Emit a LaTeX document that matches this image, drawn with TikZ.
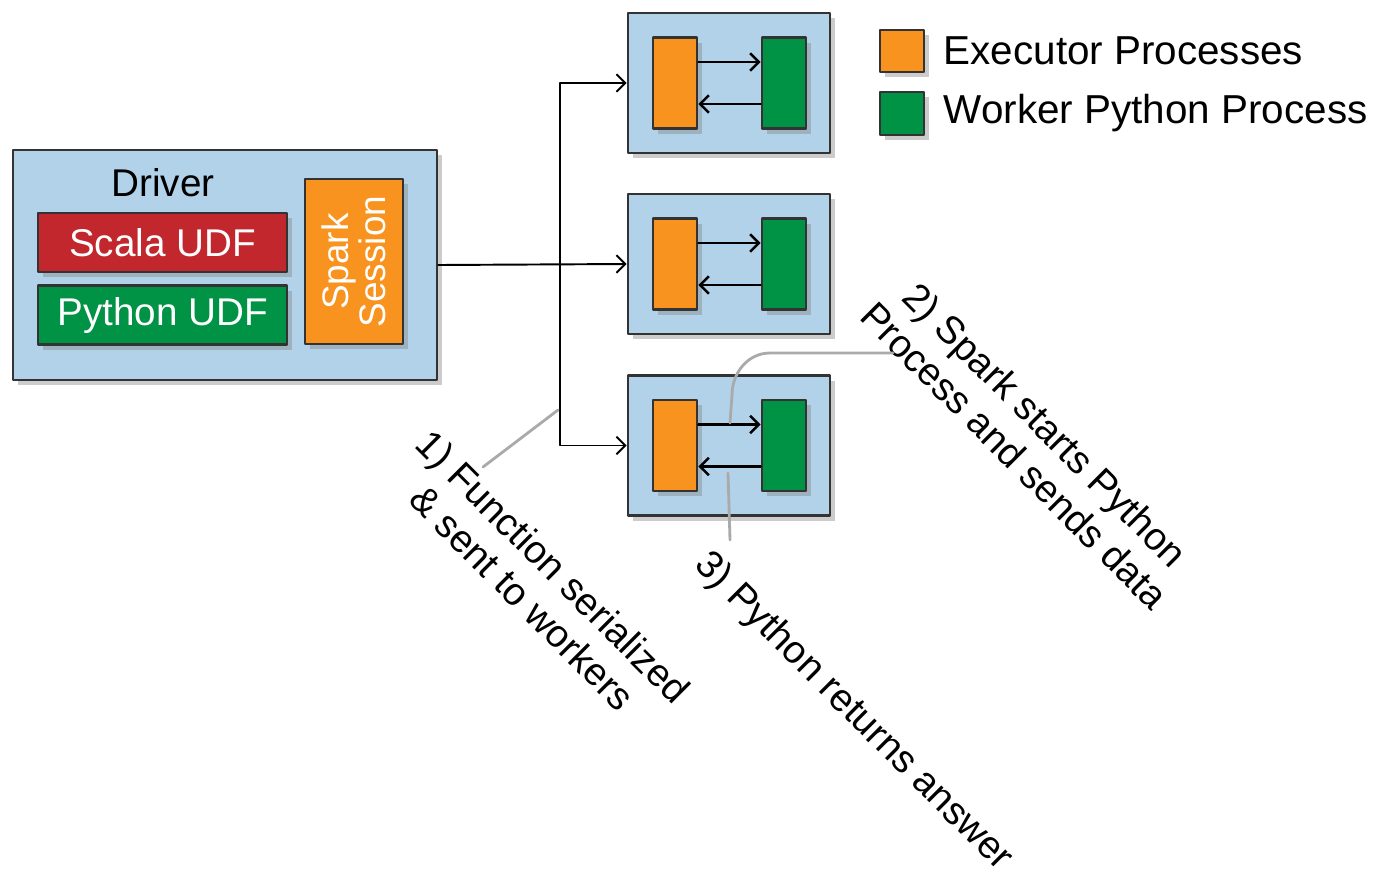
\documentclass[tikz,border=0pt]{standalone}
\usepackage{fontspec}
\setmainfont{Liberation Sans}
\usetikzlibrary{arrows.meta,shadows,positioning}
\definecolor{boxblue}{RGB}{178,210,234}
\definecolor{exorange}{RGB}{247,147,30}
\definecolor{pygreen}{RGB}{0,146,69}
\definecolor{scalared}{RGB}{193,39,45}
\definecolor{edge}{RGB}{51,51,51}
\definecolor{leader}{RGB}{170,170,170}
\tikzset{
  panel/.style={draw=edge, line width=1.6pt, fill=boxblue, inner sep=0pt,
    drop shadow={opacity=0.4, shadow xshift=3pt, shadow yshift=-3pt}},
  proc/.style={panel, minimum width=0.88cm, minimum height=1.82cm},
  udf/.style={panel, text=white, minimum width=4.98cm, minimum height=1.18cm},
  keytext/.style={inner sep=0pt, anchor=west, font=\fontsize{23}{26}\selectfont},
  note/.style={rotate=-45, align=center, font=\fontsize{22}{25}\selectfont},
  leadline/.style={draw=leader, line width=1.6pt, line cap=round},
}
\begin{document}
\begin{tikzpicture}[x=0.02cm, y=-0.02cm, font=\fontsize{22}{26}\selectfont, line join=round, line cap=round, >={Straight Barb[length=5pt,width=10pt]}]
    \useasboundingbox (0,0) rectangle (1379,893);
    % driver
    \node[panel, minimum width=8.48cm, minimum height=4.6cm] (driver) at (225,265) {};
    \node (drvlbl) at (163,183) {Driver};
    \node[udf, fill=scalared] (scala) at (162.5,242.5) {Scala UDF};
    \node[udf, fill=pygreen] (pyudf) at (162.5,315) {Python UDF};
    \node[panel, fill=exorange, minimum width=1.96cm, minimum height=3.3cm] (session) at (354,261.5) {};
    \node[rotate=90, align=center, text=white, font=\fontsize{21}{21}\selectfont] (sesslbl) at (session) {Spark\\Session};
    % executors
    \foreach \i/\y in {1/83,2/264,3/445.5}{
      \node[panel, minimum width=4.04cm, minimum height=2.8cm] (exe\i) at (729,\y) {};
      \node[proc, fill=exorange] (exor\i) at (675,\y) {};
      \node[proc, fill=pygreen] (work\i) at (784,\y) {};
      \draw[->, line width=1.4pt] ([yshift=0.42cm]exor\i.east) -- ([yshift=0.42cm]work\i.west);
      \draw[->, line width=1.4pt] ([yshift=-0.42cm]work\i.west) -- ([yshift=-0.42cm]exor\i.east);
    }
    % driver to executors
    \coordinate (split) at (560,265);
    \draw[->, line width=1.1pt] (driver.east) -- (exe2.west);
    \draw[->, line width=1.1pt] (split) |- (exe1.west);
    \draw[->, line width=1.1pt] (split) |- (exe3.west);
    % legend
    \node[panel, fill=exorange, minimum width=0.88cm, minimum height=0.84cm] (keyexor) at (902,51) {};
    \node[panel, fill=pygreen, minimum width=0.88cm, minimum height=0.86cm] (keywork) at (902,113.5) {};
    \node[keytext, right=0.36cm of keyexor] (keyexortxt) {Executor Processes};
    \node[keytext, right=0.36cm of keywork] (keyworktxt) {Worker Python Process};
    % notes
    \node[note] (note1) at (538,582) {1) Function serialized\\\& sent to workers};
    \node[note] (note2) at (1030,440) {2) Spark starts Python\\Process and sends data};
    \node[note] (note3) at (853,712) {3) Python returns answer};
    \coordinate (lead1s) at (483,467); \coordinate (lead1e) at (558,410);
    \coordinate (lead2s) at (893,353); \coordinate (lead2e) at (730,423);
    \coordinate (lead3s) at (730,540); \coordinate (lead3e) at (728,473);
    \draw[leadline] (lead1s) -- (lead1e);
    \draw[leadline] (lead2s) -- (770,353) to[out=180,in=90] (732,395) -- (lead2e);
    \draw[leadline] (lead3s) -- (lead3e);
\end{tikzpicture}
\end{document}
